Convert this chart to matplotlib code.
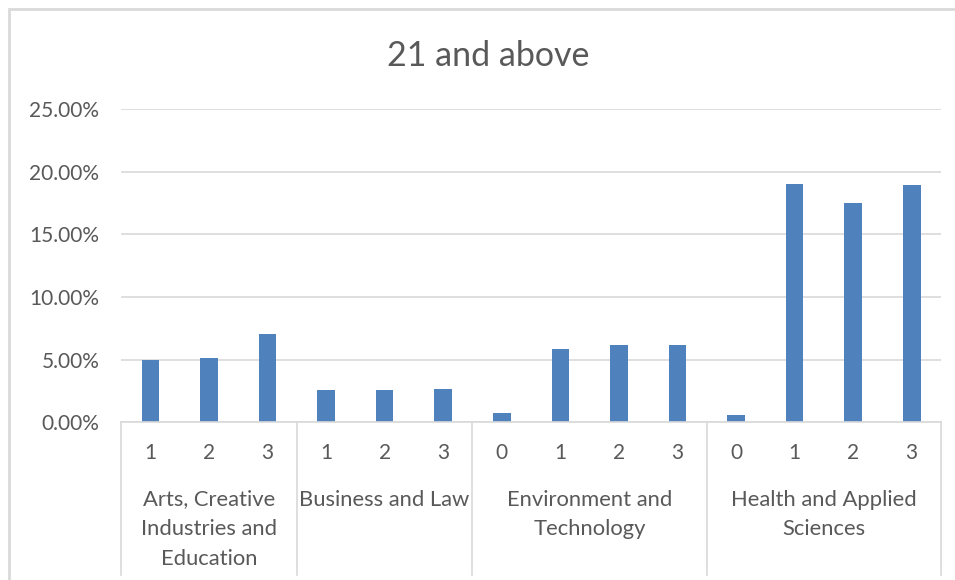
"""Excel-style clustered column chart: share aged 21 and above by faculty and year."""

import matplotlib
matplotlib.use("Agg")
import matplotlib.pyplot as plt
import matplotlib.transforms as mtransforms
from matplotlib.patches import Rectangle
from matplotlib.ticker import FuncFormatter
import numpy as np


TITLE = "21 and above"
GROUPS = [
    "Arts, Creative\nIndustries and\nEducation",
    "Business and Law",
    "Environment and\nTechnology",
    "Health and Applied\nSciences",
]
YEARS = [
    ["1", "2", "3"],
    ["1", "2", "3"],
    ["0", "1", "2", "3"],
    ["0", "1", "2", "3"],
]
VALUES = [
    [0.0495, 0.0514, 0.0708],
    [0.0258, 0.0258, 0.0268],
    [0.0074, 0.0585, 0.0615, 0.0615],
    [0.0056, 0.1906, 0.1754, 0.1898],
]

BAR_COLOR = "#4F81BD"
GRID_COLOR = "#D9D9D9"
TEXT_COLOR = "#595959"
FONT = ["Lato", "DejaVu Sans"]

W, H = 955, 580
plt.rcParams["font.family"] = FONT

fig = plt.figure(figsize=(W / 100, H / 100), dpi=100)
fig.patch.set_facecolor("white")


def fx(px):
    return px / W


def fy(py):
    return 1 - py / H


# plot area in pixels: left 121, right 941, top (25%) 109, bottom (0%) 422
ax = fig.add_axes([fx(121), fy(422.3), fx(941 - 121), (422.3 - 109.3) / H])

heights = [v for grp in VALUES for v in grp]
x = np.arange(len(heights))
ax.bar(x, heights, width=0.30, color=BAR_COLOR, zorder=3)

ax.set_xlim(-0.5, len(heights) - 0.5)
ax.set_ylim(0, 0.25)
ax.set_yticks(np.arange(0, 0.2501, 0.05))
ax.yaxis.set_major_formatter(FuncFormatter(lambda v, _: f"{v * 100:.2f}%"))
ax.tick_params(axis="y", length=0, pad=15.5, labelsize=15, labelcolor=TEXT_COLOR)
ax.set_xticks([])
ax.grid(axis="y", color=GRID_COLOR, linewidth=1.2, zorder=0)
for side in ["top", "right", "left"]:
    ax.spines[side].set_visible(False)
ax.spines["bottom"].set_color(GRID_COLOR)
ax.spines["bottom"].set_linewidth(1.2)
ax.spines["bottom"].set_zorder(4)

# multi-level category axis
tr = mtransforms.blended_transform_factory(ax.transData, fig.transFigure)
sub_labels = [s for grp in YEARS for s in grp]
for xi, lab in zip(x, sub_labels):
    ax.text(xi, fy(453), lab, transform=tr, ha="center", va="center",
            fontsize=15, color=TEXT_COLOR, clip_on=False)

start = -0.5
bounds = [start]
for grp, name in zip(YEARS, GROUPS):
    end = start + len(grp)
    ax.text((start + end) / 2, fy(489.5), name, transform=tr, ha="center", va="top",
            fontsize=15.8, color=TEXT_COLOR, linespacing=1.6, clip_on=False)
    bounds.append(end)
    start = end
for b in bounds:
    ax.plot([b, b], [fy(422.3), fy(575)], transform=tr, color=GRID_COLOR,
            linewidth=1.2, clip_on=False)

fig.text(fx(488), fy(56), TITLE, ha="center", va="center",
         fontsize=24.5, color=TEXT_COLOR)

# chart border (only left and top edges fall inside the picture)
fig.patches.append(Rectangle((fx(8.5), fy(600)), fx(1000), fy(9.5) - fy(600),
                             transform=fig.transFigure, fill=False,
                             edgecolor=GRID_COLOR, linewidth=2))

fig.savefig("out.png", dpi=100)
